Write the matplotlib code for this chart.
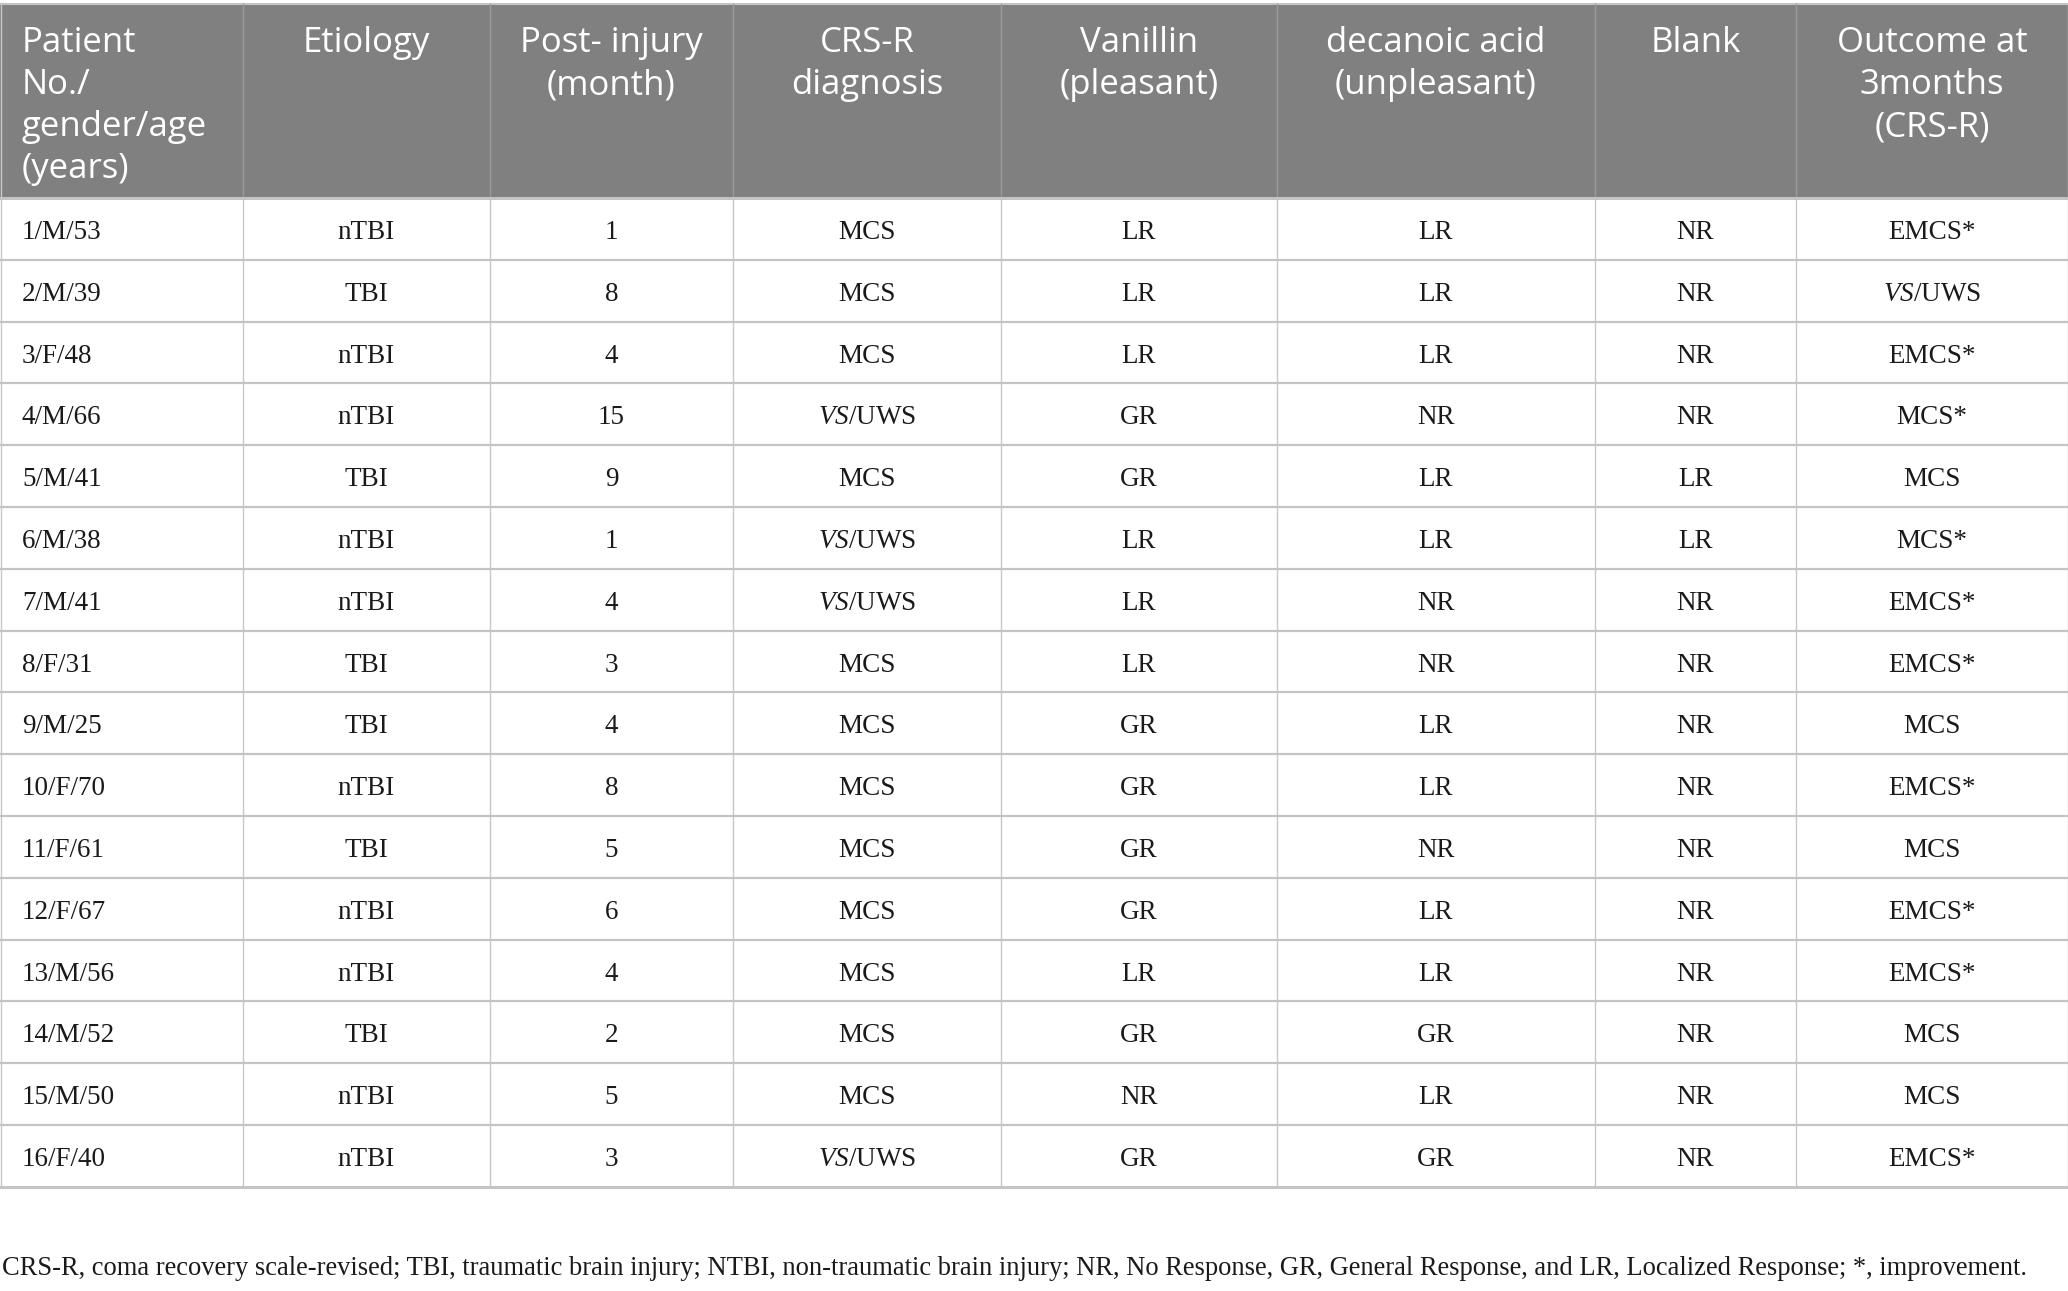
import matplotlib
matplotlib.use("Agg")
import matplotlib.pyplot as plt
from matplotlib.patches import Rectangle

plt.rcParams['mathtext.fontset'] = 'custom'
plt.rcParams['mathtext.rm'] = 'Liberation Serif'
plt.rcParams['mathtext.it'] = 'Liberation Serif:italic'

# table content
headers = [
    ["Patient", "No./", "gender/age", "(years)"],
    ["Etiology"],
    ["Post- injury", "(month)"],
    ["CRS-R", "diagnosis"],
    ["Vanillin", "(pleasant)"],
    ["decanoic acid", "(unpleasant)"],
    ["Blank"],
    ["Outcome at", "3months", "(CRS-R)"],
]
patients = ["1/M/53", "2/M/39", "3/F/48", "4/M/66", "5/M/41", "6/M/38", "7/M/41", "8/F/31",
            "9/M/25", "10/F/70", "11/F/61", "12/F/67", "13/M/56", "14/M/52", "15/M/50", "16/F/40"]
etiology = ["nTBI", "TBI", "nTBI", "nTBI", "TBI", "nTBI", "nTBI", "TBI",
            "TBI", "nTBI", "TBI", "nTBI", "nTBI", "TBI", "nTBI", "nTBI"]
post_injury = [1, 8, 4, 15, 9, 1, 4, 3, 4, 8, 5, 6, 4, 2, 5, 3]
crs_r = ["MCS", "MCS", "MCS", "VS/UWS", "MCS", "VS/UWS", "VS/UWS", "MCS",
         "MCS", "MCS", "MCS", "MCS", "MCS", "MCS", "MCS", "VS/UWS"]
vanillin = ["LR", "LR", "LR", "GR", "GR", "LR", "LR", "LR",
            "GR", "GR", "GR", "GR", "LR", "GR", "NR", "GR"]
decanoic = ["LR", "LR", "LR", "NR", "LR", "LR", "NR", "NR",
            "LR", "LR", "NR", "LR", "LR", "GR", "LR", "GR"]
blank = ["NR", "NR", "NR", "NR", "LR", "LR", "NR", "NR",
         "NR", "NR", "NR", "NR", "NR", "NR", "NR", "NR"]
outcome = ["EMCS*", "VS/UWS", "EMCS*", "MCS*", "MCS", "MCS*", "EMCS*", "EMCS*",
           "MCS", "EMCS*", "MCS", "EMCS*", "EMCS*", "MCS", "MCS", "EMCS*"]
footnote = ("CRS-R, coma recovery scale-revised; TBI, traumatic brain injury; NTBI, non-traumatic "
            "brain injury; NR, No Response, GR, General Response, and LR, Localized Response; *, improvement.")

columns = [patients, etiology, post_injury, crs_r, vanillin, decanoic, blank, outcome]

# layout in pixels
W, H = 2068, 1291
col_edges = [0, 243, 490, 733, 1001, 1277, 1595, 1796, 2068]
top, head_bottom, row_h = 4, 198, 61.8
n_rows = len(patients)

fig = plt.figure(figsize=(W / 100, H / 100), dpi=100)
ax = fig.add_axes([0, 0, 1, 1])
ax.set_xlim(0, W)
ax.set_ylim(H, 0)
ax.axis('off')

header_bg = '#7f807f'
ax.add_patch(Rectangle((0, top), W, head_bottom - top, color=header_bg, lw=0))
ax.plot([0, W], [top, top], color='#c4c4c4', lw=1.5)

table_bottom = head_bottom + n_rows * row_h

# vertical lines
for x in col_edges[1:-1]:
    ax.plot([x, x], [top, head_bottom], color='#9a9a9a', lw=1)
    ax.plot([x, x], [head_bottom, table_bottom], color='#c8c8c8', lw=1)
ax.plot([0.5, 0.5], [top, table_bottom], color='#c8c8c8', lw=1)
ax.plot([W - 0.5, W - 0.5], [top, table_bottom], color='#c8c8c8', lw=1)

# horizontal lines
for i in range(n_rows + 1):
    y = head_bottom + i * row_h
    ax.plot([0, W], [y, y], color='#c4c4c4', lw=1.6 if 0 < i < n_rows else 2.2)

# header text
head_font = dict(family=['Open Sans', 'DejaVu Sans'], size=25, color='white')
for c, lines in enumerate(headers):
    for k, line in enumerate(lines):
        y = 52 + k * 42
        if c == 0:
            ax.text(col_edges[0] + 22, y, line, ha='left', va='baseline', **head_font)
        else:
            xc = (col_edges[c] + col_edges[c + 1]) / 2
            ax.text(xc, y, line, ha='center', va='baseline', **head_font)


def fmt(v):
    s = str(v)
    if s.startswith("VS/"):
        return r"$\mathit{VS}$" + s[2:]
    return s


body_font = dict(family=['Liberation Serif', 'DejaVu Serif'], size=19.5, color='#1a1a1a')
for c, vals in enumerate(columns):
    for r, v in enumerate(vals):
        y = head_bottom + r * row_h + 41
        if c == 0:
            ax.text(col_edges[0] + 22, y, fmt(v), ha='left', va='baseline', **body_font)
        else:
            xc = (col_edges[c] + col_edges[c + 1]) / 2
            ax.text(xc, y, fmt(v), ha='center', va='baseline', **body_font)

ax.text(2, 1275, footnote, ha='left', va='baseline',
        family=['Liberation Serif', 'DejaVu Serif'], size=19.1, color='#1a1a1a')

fig.savefig('out.png', dpi=100)
